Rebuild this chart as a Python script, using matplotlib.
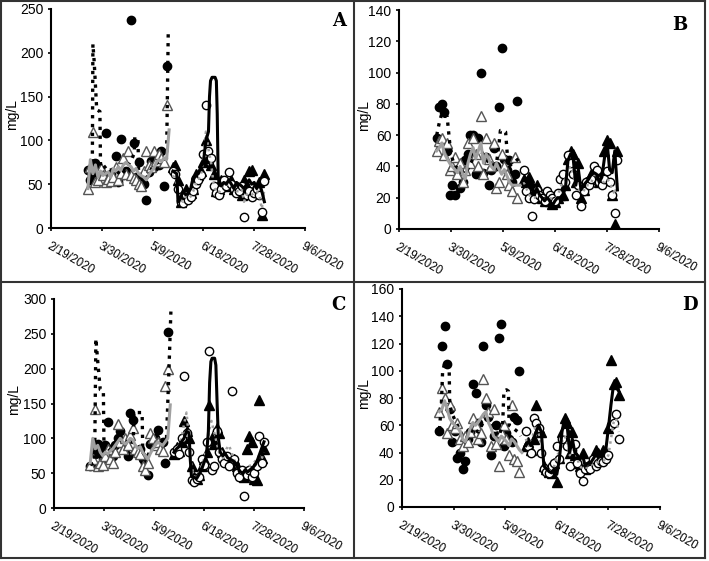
import pandas as pd
import matplotlib
matplotlib.use("Agg")
import matplotlib.pyplot as plt
from matplotlib.lines import Line2D

plt.rcParams["font.family"] = ["Liberation Sans", "DejaVu Sans"]

START = pd.Timestamp("2020-02-19")
tick_days = [0, 40, 80, 120, 160, 200]
tick_labels = ["2/19/2020", "3/30/2020", "5/9/2020", "6/18/2020", "7/28/2020", "9/6/2020"]

# sampling days (days after 2/19/2020)
p1_days = [29, 31, 33, 35, 37, 39, 41, 43, 45, 47, 49, 51, 53, 55, 57, 59,
           61, 63, 65, 67, 69, 71, 73, 75, 77, 79, 81, 83, 85, 87, 89, 91]
p2_days = [96, 98, 100, 102, 104, 106, 108, 110, 112, 114, 116, 118, 120,
           122, 124, 126, 128, 130, 132, 134, 136, 138, 140, 142, 144, 146,
           148, 150, 152, 154, 156, 158, 160, 162, 164, 166, 168]
gray_days = p1_days + [93]

# ---- panel A ----
a_fc = [66, 55, 62, 74, 70, 64, 60, 108, 57, 62, 55, 82, 52, 102, 60, 65,
        62, 237, 97, 58, 75, 55, 50, 32, 64, 76, 70, 78, 72, 88, 48, 185]
a_ot = [45, 70, 110, 52, 55, 68, 60, 53, 56, 54, 58, 70, 55, 63, 80, 62,
        88, 60, 57, 55, 50, 48, 65, 88, 72, 70, 88, 76, 85, 80, 75, 140]
a_dot_days = [29, 32.5, 33, 34, 36, 38.5, 39, 41, 45, 50, 55, 60, 64, 65.5,
              66, 68.5, 69, 72, 76, 80, 84, 88, 91, 92.3]
a_dot = [62, 60, 210, 190, 135, 133, 70, 72, 65, 68, 60, 70, 80, 85,
         104, 102, 60, 62, 58, 70, 75, 78, 80, 222]
a_gray = [45, 78, 62, 72, 58, 65, 60, 62, 64, 58, 68, 65, 70, 66, 72, 75, 72,
          70, 65, 68, 62, 60, 58, 55, 60, 65, 68, 75, 78, 76, 80, 78, 112]
a_ft = [70, 72, 55, 30, 35, 45, 38, 40, 45, 62, 60, 65, 75, 100, 80, 72, 62,
        42, 45, 55, 50, 48, 50, 55, 45, 48, 42, 38, 55, 48, 65, 66, 45, 40,
        52, 15, 62]
a_oc = [65, 62, 45, 30, 28, 38, 32, 35, 42, 50, 55, 60, 85, 140, 88, 80, 48,
        40, 38, 45, 55, 48, 64, 50, 45, 40, 42, 48, 12, 38, 42, 35, 40, 45,
        38, 18, 54]
a_blk_days = [96, 99, 100, 102, 104, 106, 108, 110, 112, 114, 116, 118, 120,
              122, 124, 124.8, 125.6, 126.8, 129.2, 130.2, 130.9, 131.6, 132.5,
              134, 136, 138, 140, 142, 144, 146, 148, 150, 152, 154, 156, 158,
              160, 162, 164, 166, 168]
a_blk = [65, 62, 30, 35, 42, 38, 40, 45, 58, 60, 62, 70, 75, 100, 110, 150,
         168, 172, 172, 168, 130, 60, 50, 48, 52, 50, 55, 50, 45, 52, 50, 48,
         45, 50, 55, 50, 52, 45, 50, 42, 30]
a_gdot = [60, 55, 42, 32, 30, 36, 34, 36, 42, 50, 55, 60, 80, 110, 90, 75, 50,
          42, 40, 45, 50, 48, 55, 50, 45, 42, 42, 45, 30, 38, 40, 38, 40, 42,
          38, 22, 45]

# ---- panel B ----
b_fc = [58, 78, 80, 75, 50, 22, 28, 22, 38, 26, 30, 44, 48, 60, 60, 35,
        58, 100, 36, 46, 28, 38, 52, 40, 78, 116, 45, 38, 44, 30, 35, 82]
b_ot = [50, 56, 58, 47, 55, 38, 40, 46, 35, 42, 30, 38, 55, 42, 58, 48,
        40, 72, 35, 58, 45, 40, 55, 26, 30, 48, 40, 35, 28, 24, 46, 20]
b_dot_days = [29, 31, 33, 35, 37, 39, 41, 43, 47, 51, 55, 59, 63, 67, 71, 75,
              77, 78, 80, 82, 84, 88, 92]
b_dot = [60, 68, 74, 72, 72, 55, 45, 40, 38, 35, 42, 48, 50, 45, 40, 42,
         55, 63, 63, 62, 40, 42, 45]
b_gray = [50, 52, 55, 48, 45, 42, 40, 38, 36, 40, 35, 32, 42, 48, 52, 45, 50,
          55, 42, 48, 45, 40, 38, 42, 38, 35, 38, 34, 30, 28, 28, 28, 28]
b_ft = [32, 30, 33, 28, 24, 28, 22, 20, 18, 22, 18, 16, 17, 20, 22, 22, 28,
        45, 50, 48, 30, 42, 20, 25, 30, 32, 35, 38, 37, 30, 35, 50, 57, 55,
        22, 3, 50]
b_oc = [38, 24, 20, 8, 19, 25, 22, 20, 18, 24, 22, 20, 18, 23, 32, 35, 30,
        47, 42, 35, 22, 28, 15, 24, 30, 28, 32, 40, 38, 30, 28, 32, 37, 30,
        22, 10, 44]
b_blk = [32, 30, 32, 28, 22, 26, 22, 20, 18, 20, 18, 15, 18, 20, 20, 22, 26,
         44, 48, 45, 28, 38, 25, 28, 30, 32, 35, 36, 35, 30, 33, 45, 56, 38,
         36, 50, 25]
b_gdot = [30, 26, 22, 20, 20, 22, 22, 20, 19, 20, 20, 19, 19, 21, 26, 30, 32,
          38, 40, 35, 28, 26, 24, 24, 28, 28, 30, 34, 35, 32, 30, 30, 32, 30,
          26, 22, 30]

# ---- panel C ----
c_fc = [60, 62, 78, 92, 80, 72, 90, 124, 85, 75, 90, 100, 110, 95, 85, 75,
        136, 126, 80, 78, 85, 70, 65, 48, 92, 95, 100, 112, 90, 95, 64, 252]
c_ot = [62, 70, 142, 60, 65, 62, 75, 85, 70, 65, 80, 120, 95, 85, 100, 90,
        105, 115, 85, 80, 78, 60, 55, 65, 108, 100, 90, 95, 85, 82, 175, 200]
c_dot_days = [29, 32.5, 33.5, 35, 37, 39.5, 40, 42, 46, 50, 54, 58, 62, 63.5,
              64, 70.5, 71, 74, 78, 82, 86, 90, 92, 93.5]
c_dot = [62, 65, 243, 210, 170, 168, 85, 88, 80, 90, 100, 95, 90, 100,
         137, 137, 80, 72, 85, 90, 95, 100, 200, 282]
c_gray = [65, 100, 85, 90, 80, 75, 80, 78, 82, 85, 90, 95, 100, 95, 92, 95,
          100, 98, 90, 85, 88, 80, 75, 70, 78, 85, 90, 95, 92, 90, 95, 100, 148]
c_ft = [78, 88, 82, 95, 125, 110, 100, 60, 45, 42, 48, 60, 70, 80, 148, 100,
        92, 115, 108, 80, 75, 70, 72, 65, 70, 60, 55, 50, 45, 85, 103, 95, 42,
        40, 155, 72, 85]
c_oc = [80, 85, 78, 100, 190, 108, 80, 40, 38, 42, 45, 70, 62, 95, 226, 55,
        60, 110, 80, 70, 65, 75, 60, 168, 70, 50, 45, 55, 17, 48, 55, 45, 50,
        60, 104, 65, 95]
c_blk_days = [96, 98, 100, 102, 104, 106, 108, 109, 110, 112, 114, 116, 118,
              120, 122, 123.5, 124.5, 125.5, 126.5, 128.5, 129.5, 130.5, 131.5,
              133, 135, 137, 139, 141, 143, 145, 147, 149, 151, 153, 155, 157,
              159, 161, 163, 165, 167, 168]
c_blk = [80, 85, 88, 95, 100, 110, 108, 70, 45, 44, 42, 48, 55, 65, 75, 110,
         180, 210, 215, 215, 205, 150, 100, 80, 75, 78, 72, 70, 68, 65, 58, 52,
         50, 55, 52, 55, 58, 62, 70, 80, 90, 95]
c_gdot = [80, 85, 90, 100, 120, 137, 100, 60, 45, 45, 50, 60, 70, 85, 110,
          125, 110, 95, 80, 75, 70, 85, 90, 80, 70, 60, 55, 50, 50, 55, 60, 62,
          65, 70, 75, 70, 80]

# ---- panel D ----
d_fc = [56, 118, 133, 105, 72, 48, 56, 36, 40, 28, 34, 50, 55, 90, 84, 62,
        48, 118, 75, 66, 38, 52, 60, 124, 134, 45, 54, 50, 48, 66, 64, 100]
d_ot = [70, 87, 80, 54, 75, 60, 58, 62, 50, 45, 52, 48, 55, 65, 60, 50,
        54, 94, 80, 70, 45, 72, 46, 30, 55, 60, 50, 38, 75, 35, 34, 26]
d_dot_days = [29, 30.5, 31.5, 33, 35, 36.5, 37, 39, 43, 47, 51, 55, 59, 63,
              67, 71, 75, 78, 79, 81, 82.5, 83, 86, 90, 92]
d_dot = [57, 75, 100, 105, 104, 105, 75, 68, 60, 52, 50, 58, 55, 62, 65, 58,
         52, 60, 85, 86, 85, 60, 58, 55, 52]
d_gray = [70, 72, 78, 72, 65, 62, 60, 58, 56, 50, 48, 52, 58, 62, 60, 62, 65,
          68, 70, 62, 58, 52, 50, 48, 52, 50, 48, 45, 50, 48, 45, 42, 40]
d_ft = [45, 48, 42, 50, 75, 58, 55, 30, 28, 26, 25, 32, 18, 36, 55, 65, 62,
        40, 55, 38, 32, 30, 40, 28, 30, 32, 35, 42, 40, 38, 42, 40, 58, 108,
        90, 92, 82]
d_oc = [56, 45, 40, 65, 62, 58, 40, 28, 26, 25, 30, 32, 45, 35, 50, 55, 45,
        30, 42, 46, 32, 25, 19, 28, 30, 28, 35, 30, 32, 34, 33, 35, 38, 60,
        62, 68, 50]
d_blk = [45, 48, 45, 50, 55, 60, 55, 30, 28, 26, 25, 28, 24, 35, 55, 65, 60,
         40, 50, 40, 38, 35, 38, 30, 32, 32, 35, 38, 40, 38, 40, 42, 58, 75,
         90, 88, 85]
d_gdot = [50, 45, 45, 55, 60, 55, 45, 32, 28, 26, 28, 30, 38, 40, 48, 52, 48,
          38, 42, 42, 35, 30, 28, 28, 30, 30, 32, 32, 33, 34, 34, 35, 38, 50,
          62, 65, 55]


def to_dates(days):
    return START + pd.to_timedelta(days, unit="D")


def draw_panel(ax, letter, letter_xy, label_x, ymax, ystep, fc, ot, dot_days,
               dot, gray, ft, oc, blk_days, blk, gdot):
    ax.plot(to_dates(p1_days), fc, "o", color="black", ms=6, zorder=2)
    ax.plot(to_dates(p1_days), ot, "^", mfc="white", mec="#555555", mew=1.0,
            ms=6.5, zorder=2)
    ax.plot(to_dates(p2_days), ft, "^", color="black", ms=6.5, zorder=2)
    ax.plot(to_dates(p2_days), oc, "o", mfc="white", mec="black", mew=1.0,
            ms=6, zorder=2)
    ax.plot(to_dates(dot_days), dot, ":", color="black", lw=2.4, zorder=3)
    ax.plot(to_dates(gray_days), gray, "-", color="#a0a0a0", lw=2.2, zorder=3)
    ax.plot(to_dates(p2_days), gdot, ":", color="#a0a0a0", lw=1.8, zorder=3)
    ax.plot(to_dates(blk_days), blk, "-", color="black", lw=2.2, zorder=3)

    ax.set_ylim(0, ymax)
    ax.set_yticks(range(0, ymax + 1, ystep))
    ax.set_xlim(to_dates([0])[0], to_dates([200])[0])
    ax.set_xticks(to_dates(tick_days))
    ax.set_xticklabels(tick_labels, rotation=-30, ha="left", va="top",
                       rotation_mode="anchor", fontsize=8.5)
    ax.tick_params(axis="y", labelsize=10, length=2, width=1.2)
    ax.tick_params(axis="x", length=2, width=1.2, pad=7)
    ax.set_ylabel("mg/L", fontsize=10)
    # place the axis title like the reference (pixels left of the y axis)
    width_px = ax.get_position().width * 709
    ax.yaxis.set_label_coords(label_x / width_px, 0.52)
    for s in ["top", "right"]:
        ax.spines[s].set_visible(False)
    for s in ["left", "bottom"]:
        ax.spines[s].set_linewidth(1.5)
    fig.text(letter_xy[0] / 709, 1 - letter_xy[1] / 561, letter,
             family="DejaVu Serif", weight="bold", fontsize=13,
             ha="center", va="center")


fig = plt.figure(figsize=(7.09, 5.61), dpi=100)
axA = fig.add_axes([51 / 709, 333 / 561, 254 / 709, 219 / 561])
axB = fig.add_axes([399 / 709, 332 / 561, 260 / 709, 219 / 561])
axC = fig.add_axes([54 / 709, 53 / 561, 250 / 709, 209 / 561])
axD = fig.add_axes([402 / 709, 54 / 561, 258 / 709, 218 / 561])

draw_panel(axA, "A", (339, 21), -32, 250, 50, a_fc, a_ot, a_dot_days, a_dot,
           a_gray, a_ft, a_oc, a_blk_days, a_blk, a_gdot)
draw_panel(axB, "B", (680, 25), -28, 140, 20, b_fc, b_ot, b_dot_days, b_dot,
           b_gray, b_ft, b_oc, p2_days, b_blk, b_gdot)
draw_panel(axC, "C", (338, 305), -33, 300, 50, c_fc, c_ot, c_dot_days, c_dot,
           c_gray, c_ft, c_oc, c_blk_days, c_blk, c_gdot)
draw_panel(axD, "D", (690, 305), -31, 160, 20, d_fc, d_ot, d_dot_days, d_dot,
           d_gray, d_ft, d_oc, p2_days, d_blk, d_gdot)

# panel frames
frame = dict(color="#333333", lw=1.5, transform=fig.transFigure)
for x0, y0, x1, y1 in [(1, 1, 705, 1), (1, 558, 705, 558), (1, 1, 1, 558),
                       (705, 1, 705, 558), (354, 1, 354, 558),
                       (1, 282, 705, 282)]:
    fig.add_artist(Line2D([x0 / 709, x1 / 709], [1 - y0 / 561, 1 - y1 / 561],
                          **frame))

fig.savefig("out.png", dpi=100)
